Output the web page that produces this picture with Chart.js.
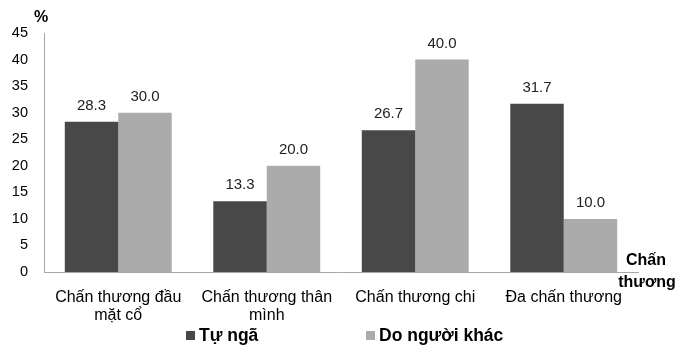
<!DOCTYPE html>
<html>
<head>
<meta charset="utf-8">
<script src="https://cdn.jsdelivr.net/npm/chart.js@4/dist/chart.umd.min.js"></script>
<style>
  html, body { margin: 0; padding: 0; background: #fff; }
  #wrap { width: 675px; height: 345px; position: relative; }
</style>
</head>
<body>
<div id="wrap"><canvas id="c"></canvas></div>
<script>
// Injury categories (two-line labels where the text wraps)
const categories = [
  ["Chấn thương đầu", "mặt cổ"],
  ["Chấn thương thân", "mình"],
  ["Chấn thương chi"],
  ["Đa chấn thương"]
];
const seriesNames = ["Tự ngã", "Do người khác"];
const selfFall = [28.3, 13.3, 26.7, 31.7];
const byOthers = [30.0, 20.0, 40.0, 10.0];
const yTicks = [0, 5, 10, 15, 20, 25, 30, 35, 40, 45];

const FONT = "'Liberation Sans', Arial, sans-serif";
const DARK = "#484848";
const LIGHT = "#ababab";
const AXIS = "#a6a6a6";

// Value labels above each bar, unit label, axis title and legend
const annotate = {
  id: "annotate",
  afterDatasetsDraw(chart) {
    const ctx = chart.ctx;
    ctx.save();
    ctx.fillStyle = "#222";
    ctx.font = "15px " + FONT;
    ctx.textAlign = "center";
    ctx.textBaseline = "alphabetic";
    chart.data.datasets.forEach((ds, i) => {
      chart.getDatasetMeta(i).data.forEach((bar, j) => {
        ctx.fillText(ds.data[j].toFixed(1), bar.x, bar.y - 12);
      });
    });
    ctx.restore();
  },
  afterDraw(chart) {
    const ctx = chart.ctx;
    const area = chart.chartArea;
    ctx.save();
    ctx.fillStyle = "#000";
    ctx.font = "bold 16px " + FONT;
    ctx.textAlign = "center";
    ctx.textBaseline = "middle";
    ctx.fillText("%", area.left - 3, 18);
    ctx.fillText("Chấn", area.right + 8, 261);
    ctx.fillText("thương", area.right + 9, 283);

    // legend
    ctx.font = "bold 17.5px " + FONT;
    ctx.textAlign = "left";
    const starts = [186, 366];
    chart.data.datasets.forEach((ds, i) => {
      const x = starts[i];
      const y = 335;
      ctx.fillStyle = ds.backgroundColor;
      ctx.fillRect(x, y - 4, 9, 9);
      ctx.fillStyle = "#000";
      ctx.fillText(ds.label, x + 13, y + 1);
    });
    ctx.restore();
  }
};

new Chart(document.getElementById("c"), {
  type: "bar",
  data: {
    labels: categories,
    datasets: [
      { label: seriesNames[0], data: selfFall, backgroundColor: DARK },
      { label: seriesNames[1], data: byOthers, backgroundColor: LIGHT }
    ]
  },
  options: {
    responsive: true,
    maintainAspectRatio: false,
    animation: false,
    devicePixelRatio: 1,
    layout: { padding: { top: 33, right: 37, bottom: 0, left: 0 } },
    plugins: {
      legend: { display: false },
      tooltip: { enabled: false }
    },
    datasets: {
      bar: { categoryPercentage: 0.72, barPercentage: 1.0 }
    },
    scales: {
      x: {
        grid: { display: false, drawTicks: false },
        border: { display: true, color: AXIS, width: 1 },
        ticks: {
          color: "#000",
          font: { family: FONT, size: 16, lineHeight: 1.15 },
          padding: 16,
          maxRotation: 0,
          autoSkip: false
        },
        afterFit(scale) { scale.height = 73; }
      },
      y: {
        min: 0,
        max: 45,
        afterBuildTicks(scale) { scale.ticks = yTicks.map(v => ({ value: v })); },
        grid: { display: false, drawTicks: false },
        border: { display: true, color: AXIS, width: 1 },
        ticks: {
          color: "#000",
          font: { family: FONT, size: 14.5 },
          padding: 16
        },
        afterFit(scale) { scale.width = 44; }
      }
    }
  },
  plugins: [annotate]
});
</script>
</body>
</html>
